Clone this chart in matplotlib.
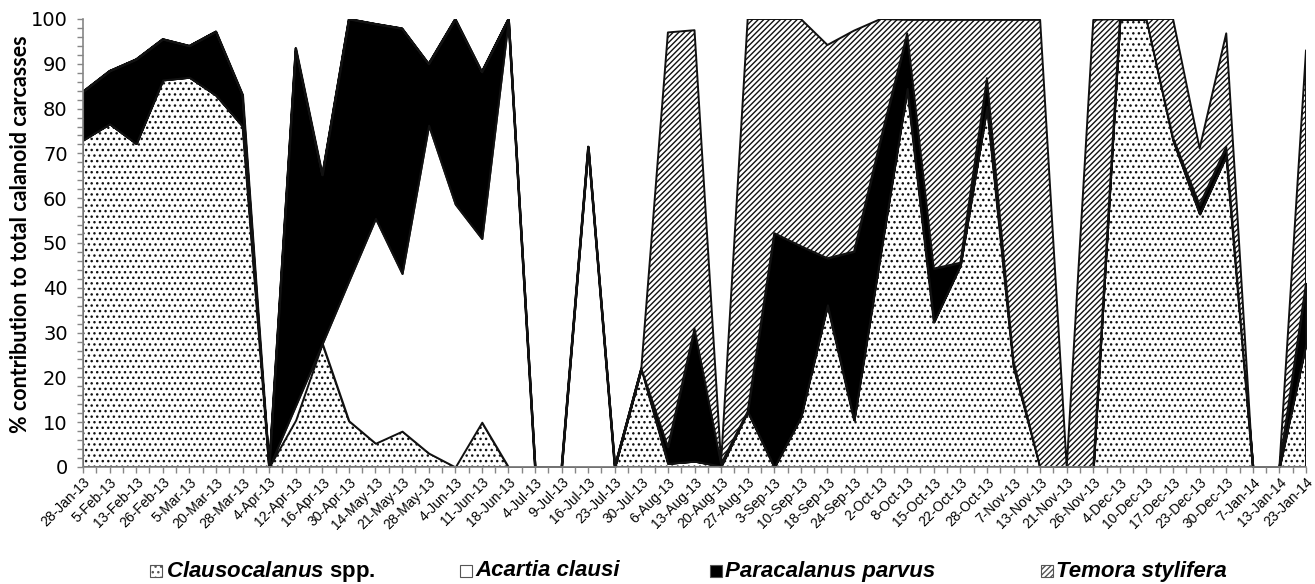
import matplotlib
matplotlib.use("Agg")
import matplotlib.pyplot as plt
from matplotlib.patches import Rectangle
from matplotlib.ticker import MultipleLocator, FixedLocator
import numpy as np

dates = ["28-Jan-13", "5-Feb-13", "13-Feb-13", "26-Feb-13", "5-Mar-13", "20-Mar-13",
         "28-Mar-13", "4-Apr-13", "12-Apr-13", "16-Apr-13", "30-Apr-13", "14-May-13",
         "21-May-13", "28-May-13", "4-Jun-13", "11-Jun-13", "18-Jun-13", "4-Jul-13",
         "9-Jul-13", "16-Jul-13", "23-Jul-13", "30-Jul-13", "6-Aug-13", "13-Aug-13",
         "20-Aug-13", "27-Aug-13", "3-Sep-13", "10-Sep-13", "18-Sep-13", "24-Sep-13",
         "2-Oct-13", "8-Oct-13", "15-Oct-13", "22-Oct-13", "28-Oct-13", "7-Nov-13",
         "13-Nov-13", "21-Nov-13", "26-Nov-13", "4-Dec-13", "10-Dec-13", "17-Dec-13",
         "23-Dec-13", "30-Dec-13", "7-Jan-14", "13-Jan-14", "23-Jan-14"]

clausocalanus = [73.0, 76.6, 72.2, 86.4, 87.0, 83.0, 76.1, 0.0, 10.5, 27.6, 10.3, 5.3,
                 8.0, 3.1, 0.0, 10.0, 0.0, 0.0, 0.0, 0.0, 0.0, 22.0, 0.8, 1.3,
                 0.2, 12.4, 0.0, 11.2, 36.2, 10.5, 47.8, 84.5, 32.4, 45.1, 80.5, 22.4,
                 0.0, 0.0, 0.0, 100.0, 100.0, 73.0, 56.5, 69.5, 0.0, 0.0, 27.6]

acartia = [0.0, 0.0, 0.0, 0.0, 0.0, 0.0, 0.0, 0.0, 3.3, 0.0, 31.3, 50.2,
           35.2, 73.2, 58.7, 41.0, 100.0, 0.0, 0.0, 71.5, 0.0, 0.0, 0.0, 0.0,
           0.0, 0.0, 0.0, 0.0, 0.0, 0.0, 0.0, 0.0, 0.0, 0.0, 0.0, 0.0,
           0.0, 0.0, 0.0, 0.0, 0.0, 0.0, 0.0, 0.0, 0.0, 0.0, 0.0]

paracalanus = [10.8, 11.8, 18.8, 9.1, 7.0, 14.2, 7.0, 0.0, 79.7, 37.6, 58.4, 43.4,
               54.7, 13.7, 41.3, 37.2, 0.0, 0.0, 0.0, 0.0, 0.0, 0.0, 3.7, 29.6,
               0.5, 0.0, 52.2, 38.1, 10.4, 37.6, 25.3, 12.3, 11.9, 0.5, 6.3, 1.2,
               0.0, 0.0, 0.0, 0.0, 0.0, 0.5, 2.0, 2.0, 0.0, 0.0, 13.4]

temora = [0.0, 0.0, 0.0, 0.0, 0.0, 0.0, 0.0, 0.0, 0.0, 0.0, 0.0, 0.0,
          0.0, 0.0, 0.0, 0.0, 0.0, 0.0, 0.0, 0.0, 0.0, 0.0, 92.5, 66.6,
          0.3, 87.6, 47.8, 50.7, 47.6, 49.3, 26.9, 3.0, 55.5, 54.2, 13.0, 76.2,
          99.8, 0.0, 99.8, 0.0, 0.0, 26.5, 12.6, 25.3, 0.0, 0.0, 52.0]

plt.rcParams["hatch.linewidth"] = 1.0
plt.rcParams["mathtext.fontset"] = "custom"
plt.rcParams["mathtext.it"] = "Liberation Sans:italic:bold"
plt.rcParams["mathtext.rm"] = "Liberation Sans:bold"

W, H = 1315, 584
fig = plt.figure(figsize=(W / 100, H / 100), dpi=100)
ax = fig.add_axes([83 / W, 1 - 467 / H, (1306 - 83) / W, (467 - 19) / H])

x = np.arange(len(dates))
layers = [clausocalanus, acartia, paracalanus, temora]
fills = [dict(facecolor="white", hatch="..."),
         dict(facecolor="white"),
         dict(facecolor="black"),
         dict(facecolor="white", hatch="//////")]

base = np.zeros(len(dates))
for vals, style in zip(layers, fills):
    top = base + np.asarray(vals, dtype=float)
    ax.fill_between(x, base, top, edgecolor="#111111", linewidth=1.4, **style)
    base = top

ax.set_xlim(0, len(dates) - 1)
ax.set_ylim(0, 100)

axis_grey = "#868686"
for side in ("top", "right"):
    ax.spines[side].set_visible(False)
for side in ("left", "bottom"):
    ax.spines[side].set_color(axis_grey)
    ax.spines[side].set_linewidth(1.2)
    ax.spines[side].set_zorder(5)

ax.yaxis.set_major_locator(MultipleLocator(10))
ax.yaxis.set_minor_locator(MultipleLocator(2))
ax.xaxis.set_major_locator(FixedLocator(x))
ax.xaxis.set_minor_locator(FixedLocator(x[:-1] + 0.5))
ax.tick_params(axis="both", which="both", direction="out", color=axis_grey,
               width=1, length=4)
ax.tick_params(axis="y", which="major", labelsize=14, pad=7)
ax.tick_params(axis="x", which="major", pad=2)

for lab in ax.get_yticklabels():
    lab.set_family("DejaVu Sans")

ax.set_xticks(x)
ax.set_xticklabels(dates, rotation=45, ha="right", va="top",
                   rotation_mode="anchor", fontsize=10, family="Liberation Sans")

ax.set_ylabel("% contribution to total calanoid carcasses", fontsize=15.5,
              fontweight="bold", family="Lato")
ax.yaxis.set_label_coords(-0.0425, 0.52)

# legend row beneath the date labels
box = 12
legend_items = [
    (150, 166, r"$\mathit{Clausocalanus}$ spp.", "normal", dict(facecolor="white", hatch="...")),
    (460, 475, "Acartia clausi", "italic", dict(facecolor="white")),
    (710, 725, "Paracalanus parvus", "italic", dict(facecolor="black")),
    (1041, 1056, "Temora stylifera", "italic", dict(facecolor="white", hatch="//////")),
]
yc = 571
for bx, tx, text, fstyle, style in legend_items:
    rect = Rectangle((bx / W, 1 - (yc + box / 2) / H), box / W, box / H,
                     transform=fig.transFigure, edgecolor="#555555", linewidth=0.8,
                     **style)
    fig.add_artist(rect)
    fig.text(tx / W, 1 - yc / H, text, fontsize=16, fontweight="bold",
             fontstyle=fstyle, family="Liberation Sans", va="center", ha="left")

fig.savefig("out.png", dpi=100)
